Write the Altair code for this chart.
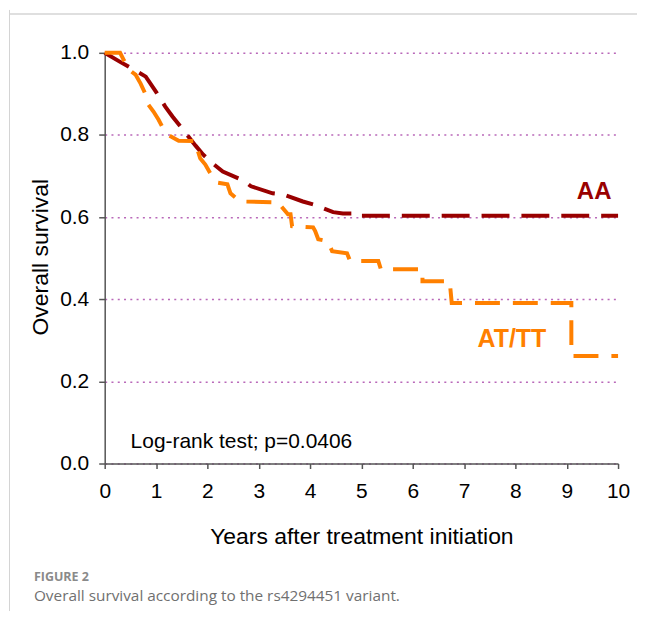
import altair as alt
import pandas as pd

# ---- Kaplan-Meier curve points (corners included) ----
aa_time = [0, 0.3, 0.5, 0.8, 1.0, 1.18, 1.32, 1.48, 1.63, 1.77, 1.92, 2.06, 2.3,
           2.7, 2.85, 3.27, 3.48, 3.86, 4.06, 4.45, 4.64, 4.88, 4.91, 10]
aa_surv = [1.0, 0.978, 0.964, 0.942, 0.905, 0.869, 0.845, 0.82, 0.796, 0.774,
           0.752, 0.735, 0.711, 0.689, 0.675, 0.658, 0.655, 0.638, 0.631, 0.612,
           0.609, 0.609, 0.603, 0.603]

at_time = [0, 0.3, 0.37, 0.47, 0.6, 0.7, 0.8, 0.85, 0.95, 1.05, 1.15, 1.22, 1.44,
           1.77, 1.8, 1.86, 1.96, 2.06, 2.19, 2.39, 2.45, 2.64, 3.40, 3.44, 3.57,
           3.62, 3.65, 4.06, 4.10, 4.16, 4.35, 4.43, 4.72, 4.78, 5.33, 5.38, 6.19,
           6.19, 6.72, 6.76, 9.09, 9.09, 10]
at_surv = [1.0, 1.0, 0.983, 0.959, 0.947, 0.925, 0.898, 0.874, 0.857, 0.837,
           0.813, 0.801, 0.786, 0.785, 0.767, 0.743, 0.728, 0.706, 0.684, 0.68,
           0.658, 0.638, 0.636, 0.626, 0.607, 0.607, 0.578, 0.575, 0.566, 0.546,
           0.541, 0.517, 0.512, 0.493, 0.493, 0.473, 0.473, 0.444, 0.444, 0.391,
           0.391, 0.262, 0.262]

groups = ["AA", "AT/TT"]
x_ticks = [0, 1, 2, 3, 4, 5, 6, 7, 8, 9, 10]
y_ticks = [0.0, 0.2, 0.4, 0.6, 0.8, 1.0]

FONT = "Liberation Sans"
RED = "#990000"
ORANGE = "#FF8000"
W, H = 515, 412

df = pd.concat([
    pd.DataFrame({"t": aa_time, "s": aa_surv, "g": "AA", "o": range(len(aa_time))}),
    pd.DataFrame({"t": at_time, "s": at_surv, "g": "AT/TT", "o": range(len(at_time))}),
], ignore_index=True)

xs = alt.Scale(domain=[0, 10], nice=False, zero=False)
ys = alt.Scale(domain=[0, 1], nice=False)

lines = alt.Chart(df).mark_line(interpolate="linear", strokeWidth=4, strokeCap="butt",
                                strokeJoin="miter").encode(
    x=alt.X("t:Q", scale=xs, axis=alt.Axis(
        values=x_ticks, format="d", grid=False, labelFont=FONT, labelFontSize=21,
        labelColor="black", labelPadding=12, labelFlush=False, tickSize=5,
        tickColor="#555555", domainColor="#555555", domainWidth=1.5, tickWidth=1.5,
        title="Years after treatment initiation", titleFont=FONT, titleFontSize=23,
        titleFontWeight="normal", titleColor="black", titleX=W / 2, titleY=73,
        titleBaseline="middle", titleAlign="center")),
    y=alt.Y("s:Q", scale=ys, axis=alt.Axis(
        values=y_ticks, format=".1f", grid=True, gridColor="#B968B9",
        gridDash=[2, 4.3], gridWidth=1.4, labelFont=FONT, labelFontSize=21,
        labelColor="black", labelPadding=10, tickSize=6, tickColor="#555555",
        domainColor="#555555", domainWidth=1.5, tickWidth=1.5,
        title="Overall survival", titleFont=FONT, titleFontSize=23,
        titleFontWeight="normal", titleColor="black", titleAngle=270,
        titleX=-64, titleY=204.5, titleBaseline="middle", titleAlign="center")),
    order=alt.Order("o:Q"),
    color=alt.Color("g:N", scale=alt.Scale(domain=groups, range=[RED, ORANGE]), legend=None),
    strokeDash=alt.StrokeDash("g:N", scale=alt.Scale(domain=groups, range=[[28, 12], [25, 13]]),
                              legend=None),
)

def label(text, x, y, size, color="black", weight="normal", font=FONT, align="left"):
    return alt.Chart(pd.DataFrame({"txt": [text]})).mark_text(
        font=font, fontSize=size, fontWeight=weight, color=color, align=align,
        baseline="alphabetic"
    ).encode(x=alt.value(x), y=alt.value(y), text="txt:N")

logrank = label("Log-rank test; p=0.0406", 26, 396, 21)
aa_lab = label("AA", 491, 147, 24, RED, "bold", align="center")
at_lab = label("AT/TT", 408.5, 295, 25, ORANGE, "bold", align="center")
fig_lab = label("FIGURE 2", -71, 530, 12.5, "#8a8a8a", "bold", font="Open Sans")
cap_lab = label("Overall survival according to the rs4294451 variant.", -71, 550, 15.4,
                "#707070", font="Open Sans")

frame_left = alt.Chart(pd.DataFrame({"a": [0]})).mark_rule(color="#d4d4d4", strokeWidth=1).encode(
    x=alt.value(-95.5), y=alt.value(-43), y2=alt.value(560))
frame_top = alt.Chart(pd.DataFrame({"a": [0]})).mark_rule(color="#d4d4d4", strokeWidth=1.5).encode(
    x=alt.value(-96), x2=alt.value(534), y=alt.value(-39))

chart = alt.layer(
    frame_left, frame_top, lines, logrank, aa_lab, at_lab, fig_lab, cap_lab
).properties(width=W, height=H, padding=0).configure_view(stroke=None)

chart.save("out.html", embed_options={"renderer": "svg", "actions": False})
